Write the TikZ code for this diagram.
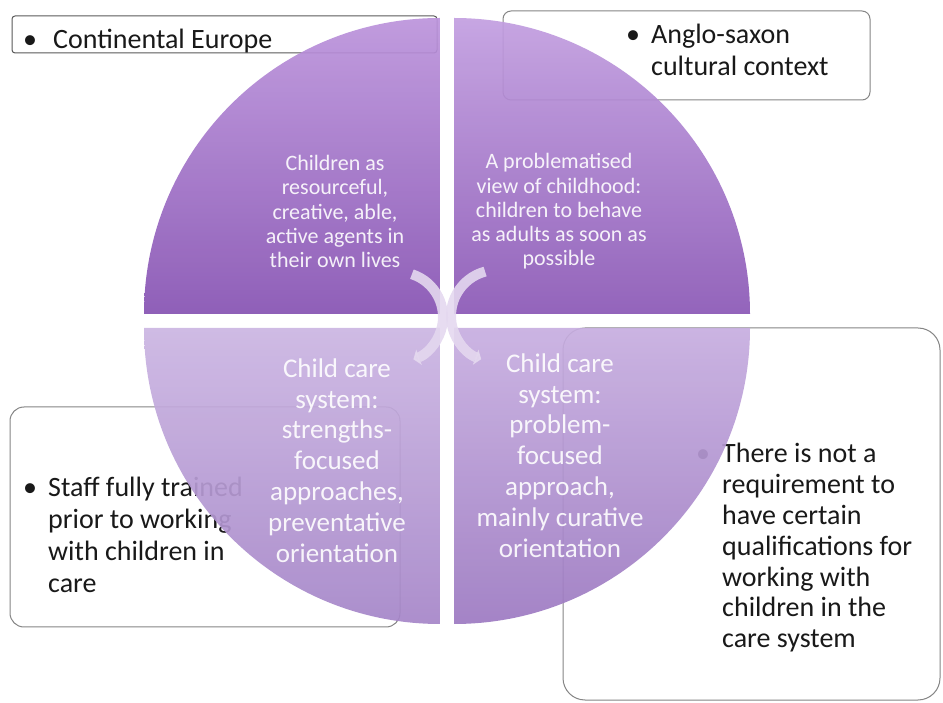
\documentclass[tikz,border=0pt]{standalone}
\usepackage{fontspec}
\setmainfont{Carlito}
\usepackage{tikz}
\usetikzlibrary{arrows.meta}

\definecolor{tlTop}{HTML}{BC94DC}
\definecolor{tlBot}{HTML}{8652B2}
\definecolor{trTop}{HTML}{C29EE0}
\definecolor{trBot}{HTML}{8A57B5}
\definecolor{blTop}{HTML}{CBB5E2}
\definecolor{blBot}{HTML}{A585C8}
\definecolor{brTop}{HTML}{C7AEE0}
\definecolor{brBot}{HTML}{9C79C1}
\definecolor{boxLine}{HTML}{858585}
\definecolor{arcCol}{HTML}{E4D8EF}

\newcommand{\bul}{\makebox[0pt][c]{\textbullet}}

\begin{document}
\begin{tikzpicture}[x=1pt,y=1pt,
	box/.style={draw=boxLine,line width=1pt,fill=white,inner sep=0pt,outer sep=0pt},
	boxtext/.style={anchor=base west,inner sep=0pt,text=black!90},
	quad/.style={fill opacity=0.92},
	quadtext/.style={align=center,text=white,text opacity=0.9},
	cyclearc/.style={draw=arcCol,opacity=0.9,line width=10pt,-{Triangle[length=6pt,width=16pt]}}]
	\useasboundingbox (0,0) rectangle (943,702);
	% boxes
	\node[box,rounded corners=3pt,draw=black!65,minimum width=425pt,minimum height=37pt] (ceBox) at (224.5,667.5) {};
	\node[box,rounded corners=8pt,minimum width=367pt,minimum height=89pt] (asBox) at (686.5,646.5) {};
	\node[box,rounded corners=14pt,minimum width=390pt,minimum height=220pt] (sfBox) at (205,185) {};
	\node[box,rounded corners=22pt,minimum width=377pt,minimum height=372pt] (rqBox) at (751.5,188) {};
	% box texts
	\node[boxtext,font=\fontsize{28}{32}\selectfont] (ceText) at (30,653)
		{\begin{tabular}[t]{@{}l@{\hspace{23pt}}l@{}}\bul & Continental Europe\end{tabular}};
	\node[boxtext,font=\fontsize{28}{32}\selectfont] (asText) at (633,658)
		{\begin{tabular}[t]{@{}l@{\hspace{18pt}}l@{}}\bul & Anglo-saxon\\ & cultural context\end{tabular}};
	\node[boxtext,font=\fontsize{28}{31.7}\selectfont] (sfText) at (30,205)
		{\begin{tabular}[t]{@{}l@{\hspace{18pt}}l@{}}\bul & Staff fully trained\\ & prior to working\\ & with children in\\ & care\end{tabular}};
	\node[boxtext,font=\fontsize{28}{30.8}\selectfont] (rqText) at (703,239)
		{\begin{tabular}[t]{@{}l@{\hspace{19pt}}l@{}}\bul & There is not a\\ & requirement to\\ & have certain\\ & qualifications for\\ & working with\\ & children in the\\ & care system\end{tabular}};
	% quadrants
	\shade[quad,top color=tlTop,bottom color=tlBot] (440,388) -- ++(-296,0) arc[start angle=180,end angle=90,radius=296] -- cycle;
	\shade[quad,top color=trTop,bottom color=trBot] (454,388) -- ++(296,0) arc[start angle=0,end angle=90,radius=296] -- cycle;
	\shade[quad,top color=blTop,bottom color=blBot] (440,374) -- ++(-296,0) arc[start angle=180,end angle=270,radius=296] -- cycle;
	\shade[quad,top color=brTop,bottom color=brBot] (454,374) -- ++(296,0) arc[start angle=0,end angle=-90,radius=296] -- cycle;
	% quadrant texts
	\node[quadtext,font=\fontsize{22}{24.3}\selectfont] (tlText) at (335,490.5)
		{Children as\\resourceful,\\creative, able,\\active agents in\\their own lives};
	\node[quadtext,font=\fontsize{22}{24.3}\selectfont] (trText) at (559,490.5)
		{A problematised\\view of childhood:\\children to behave\\as adults as soon as\\possible};
	\node[quadtext,font=\fontsize{27}{30.8}\selectfont] (blText) at (337,241.5)
		{Child care\\system:\\strengths-\\focused\\approaches,\\preventative\\orientation};
	\node[quadtext,font=\fontsize{27}{30.8}\selectfont] (brText) at (560,246.5)
		{Child care\\system:\\problem-\\focused\\approach,\\mainly curative\\orientation};
	% centre arrows
	\coordinate (arcL) at (398,385);
	\coordinate (arcR) at (497,386);
	\draw[cyclearc] ([shift={(72:45)}]arcL) arc[start angle=72,end angle=-70,radius=45];
	\draw[cyclearc] ([shift={(105:46)}]arcR) arc[start angle=105,end angle=250,radius=46];
\end{tikzpicture}
\end{document}
